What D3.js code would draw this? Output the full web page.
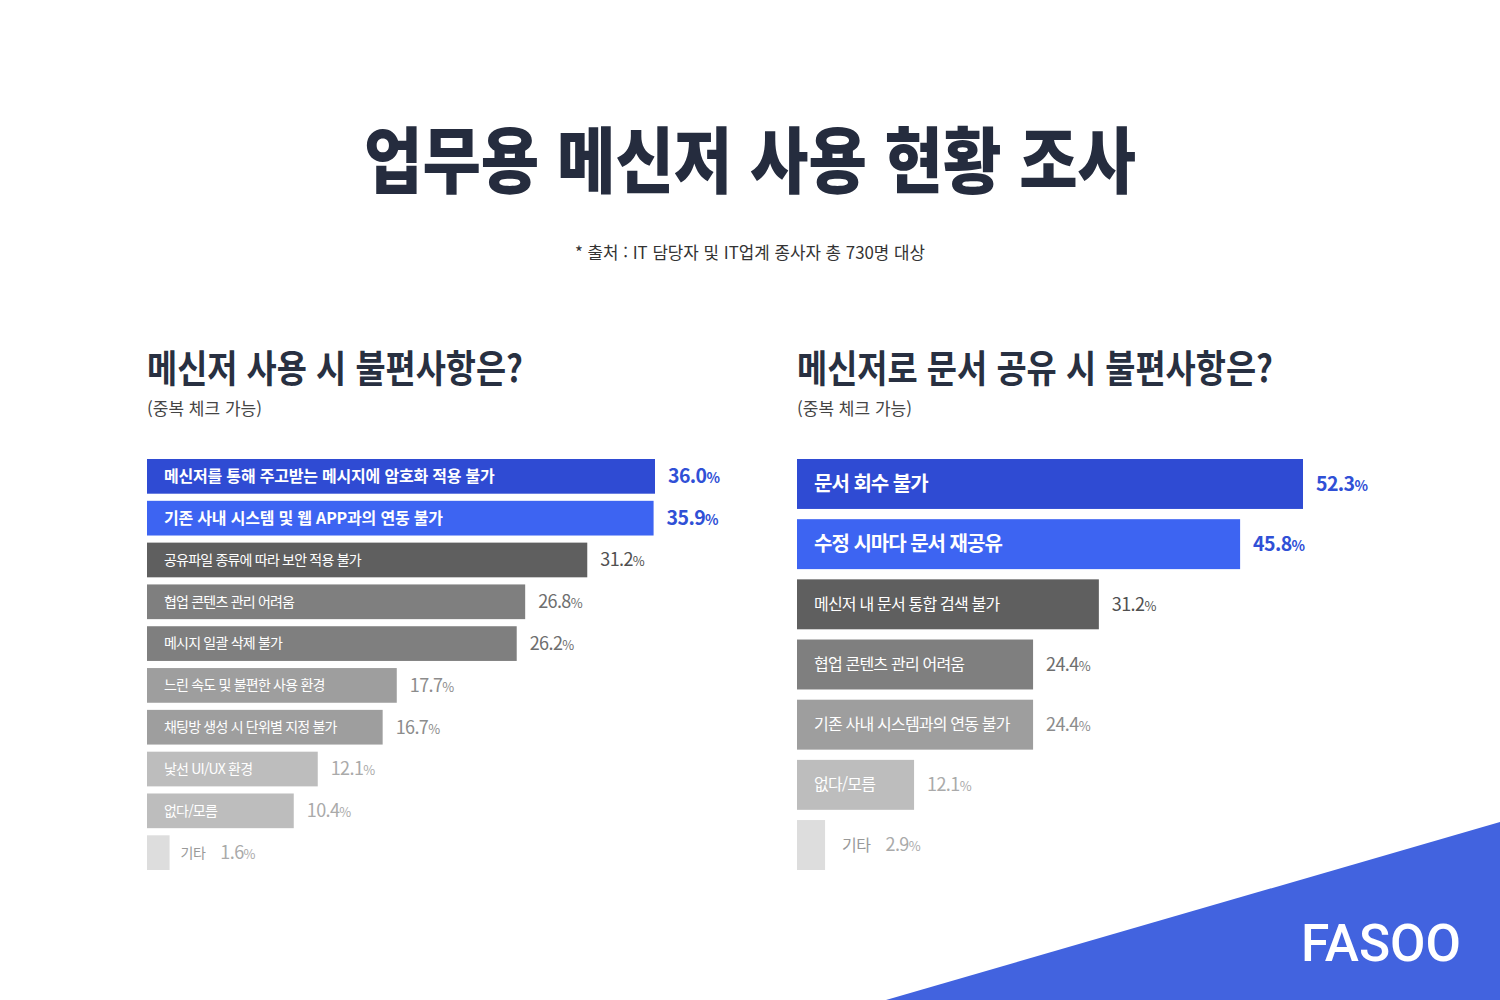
<!DOCTYPE html>
<html lang="ko">
<head>
<meta charset="utf-8">
<script src="https://cdn.jsdelivr.net/npm/d3@7"></script>
<style>
  html, body { margin: 0; padding: 0; background: #fff; }
  svg { display: block; font-family: "Noto Sans CJK KR", "Noto Sans", sans-serif; }
</style>
</head>
<body>
<svg id="chart" width="1500" height="1000"></svg>
<script>
// data
const leftCategories = [
  '메신저를 통해 주고받는 메시지에 암호화 적용 불가',
  '기존 사내 시스템 및 웹 APP과의 연동 불가',
  '공유파일 종류에 따라 보안 적용 불가',
  '협업 콘텐츠 관리 어려움',
  '메시지 일괄 삭제 불가',
  '느린 속도 및 불편한 사용 환경',
  '채팅방 생성 시 단위별 지정 불가',
  '낯선 UI/UX 환경',
  '없다/모름',
  '기타'
];
const leftValues = [36.0, 35.9, 31.2, 26.8, 26.2, 17.7, 16.7, 12.1, 10.4, 1.6];

const rightCategories = [
  '문서 회수 불가',
  '수정 시마다 문서 재공유',
  '메신저 내 문서 통합 검색 불가',
  '협업 콘텐츠 관리 어려움',
  '기존 사내 시스템과의 연동 불가',
  '없다/모름',
  '기타'
];
const rightValues = [52.3, 45.8, 31.2, 24.4, 24.4, 12.1, 2.9];

// styles
const barColors = ['#2f4bd3', '#3d64f2', '#5f5f5f', '#7f7f7f', '#9e9e9e', '#bdbdbd', '#dddddd'];
const valueColors = ['#3050d6', '#3050d6', '#505050', '#6e6e6e', '#8c8c8c', '#aaaaaa', '#aaaaaa'];
const leftTiers = [0, 1, 2, 3, 3, 4, 4, 5, 5, 6];
const rightTiers = [0, 1, 2, 3, 4, 5, 6];

const svg = d3.select('#chart');

// header
svg.append('text')
  .attr('x', 750).attr('y', 187)
  .attr('text-anchor', 'middle')
  .attr('font-size', 72).attr('font-weight', 900)
  .attr('fill', '#252c3e')
  .attr('textLength', 772).attr('lengthAdjust', 'spacingAndGlyphs')
  .text('업무용 메신저 사용 현황 조사');

svg.append('text')
  .attr('x', 750).attr('y', 259)
  .attr('text-anchor', 'middle')
  .attr('font-size', 17)
  .attr('fill', '#333')
  .attr('textLength', 350).attr('lengthAdjust', 'spacingAndGlyphs')
  .text('* 출처 : IT 담당자 및 IT업계 종사자 총 730명 대상');

function drawPanel(opts) {
  const g = svg.append('g');
  const { x0, title, titleLen, cats, vals, tiers, top, bottom, pxPerUnit,
          boldSize, boldSpacing, regSize, outGap } = opts;

  g.append('text')
    .attr('x', x0).attr('y', 382)
    .attr('font-size', 38).attr('font-weight', 700)
    .attr('fill', '#283041')
    .attr('textLength', titleLen).attr('lengthAdjust', 'spacingAndGlyphs')
    .text(title);

  g.append('text')
    .attr('x', x0).attr('y', 415)
    .attr('font-size', 17)
    .attr('fill', '#444')
    .attr('textLength', 115).attr('lengthAdjust', 'spacingAndGlyphs')
    .text('(중복 체크 가능)');

  const maxV = d3.max(vals);
  const x = d3.scaleLinear().domain([0, maxV]).range([x0, x0 + maxV * pxPerUnit]);
  const y = d3.scaleBand().domain(d3.range(cats.length)).range([top, bottom]).paddingInner(0.17);

  const rows = g.selectAll('g.row')
    .data(cats.map((c, i) => ({ c, v: vals[i], t: tiers[i], i })))
    .join('g').attr('class', 'row');

  rows.append('rect')
    .attr('x', x(0))
    .attr('y', d => y(d.i))
    .attr('width', d => x(d.v) - x(0))
    .attr('height', y.bandwidth())
    .attr('fill', d => barColors[d.t]);

  rows.each(function (d) {
    const row = d3.select(this);
    const cy = y(d.i) + y.bandwidth() / 2;
    const bold = d.t < 2;
    const inside = d.v > 5;
    let valueX;
    if (inside) {
      row.append('text')
        .attr('x', x0 + 17).attr('y', cy)
        .attr('dy', '0.35em')
        .attr('font-size', bold ? boldSize : regSize)
        .attr('font-weight', bold ? 700 : 400)
        .attr('letter-spacing', bold ? boldSpacing : -0.8)
        .attr('fill', '#fff')
        .text(d.c);
      valueX = x(d.v) + 13;
    } else {
      const lab = row.append('text')
        .attr('x', x(d.v) + outGap).attr('y', cy)
        .attr('dy', '0.35em')
        .attr('font-size', regSize)
        .attr('letter-spacing', -0.5)
        .attr('fill', '#999')
        .text(d.c);
      valueX = x(d.v) + outGap + lab.node().getComputedTextLength() + 15;
    }
    const vs = bold ? 19.5 : 18;
    const vt = row.append('text')
      .attr('x', valueX).attr('y', cy)
      .attr('dy', '0.35em')
      .attr('font-size', vs)
      .attr('font-weight', bold ? 700 : 400)
      .attr('letter-spacing', -0.6)
      .attr('fill', valueColors[d.t]);
    vt.append('tspan').text(d.v.toFixed(1));
    vt.append('tspan').attr('font-size', vs * 0.72).text('%');
  });
}

drawPanel({
  x0: 147, title: '메신저 사용 시 불편사항은?', titleLen: 376,
  cats: leftCategories, vals: leftValues, tiers: leftTiers,
  top: 459, bottom: 870, pxPerUnit: 508 / 36.0,
  boldSize: 16, boldSpacing: -0.2, regSize: 14, outGap: 11
});

drawPanel({
  x0: 797, title: '메신저로 문서 공유 시 불편사항은?', titleLen: 476,
  cats: rightCategories, vals: rightValues, tiers: rightTiers,
  top: 459, bottom: 870, pxPerUnit: 506 / 52.3,
  boldSize: 20, boldSpacing: -1, regSize: 16, outGap: 17
});

// corner brand
svg.append('polygon')
  .attr('points', '886,1000 1500,822 1500,1000')
  .attr('fill', '#4263df');

svg.append('text')
  .attr('x', 1301).attr('y', 961)
  .attr('font-family', 'Roboto, sans-serif')
  .attr('font-size', 51).attr('font-weight', 500)
  .attr('fill', '#fff')
  .attr('textLength', 160).attr('lengthAdjust', 'spacingAndGlyphs')
  .text('FASOO');
</script>
</body>
</html>
